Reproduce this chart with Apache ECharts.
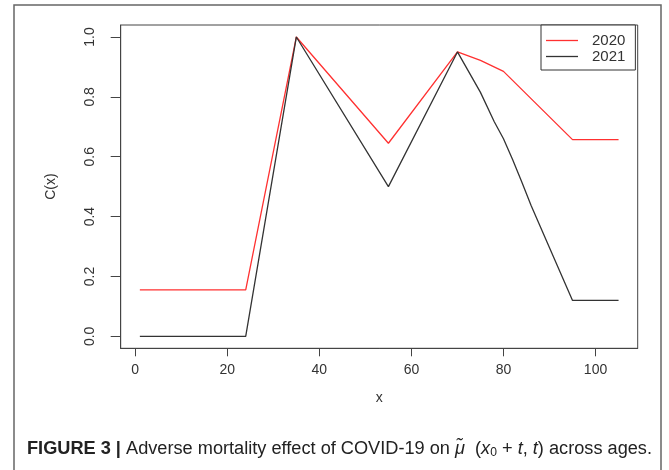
<!DOCTYPE html>
<html>
<head>
<meta charset="utf-8">
<script src="https://cdn.jsdelivr.net/npm/echarts@6/dist/echarts.min.js"></script>
<style>
html,body{margin:0;padding:0;background:#fff;}
#chart{width:669px;height:470px;}
</style>
</head>
<body>
<div id="chart"></div>
<script>
// ---- data ----
const seriesNames = ['2020', '2021'];
const ages2020 = [1, 24, 35, 55, 70, 75, 80, 95, 105];
const values2020 = [0.155, 0.155, 1.0, 0.645, 0.95, 0.922, 0.885, 0.657, 0.657];
const ages2021 = [1, 24, 35, 55, 70, 75, 78, 80, 82, 84, 86, 90, 95, 105];
const values2021 = [0, 0, 1.0, 0.5, 0.95, 0.815, 0.717, 0.66, 0.59, 0.515, 0.437, 0.296, 0.12, 0.12];
const xTicks = [0, 20, 40, 60, 80, 100];
const yTicks = [0, 0.2, 0.4, 0.6, 0.8, 1.0];
const xTitle = 'x';
const yTitle = 'C(x)';

const pairs = (xs, ys) => xs.map((x, i) => [x, ys[i]]);

const chart = echarts.init(document.getElementById('chart'), null, {renderer: 'canvas'});

// caption segments
const capFont = '"Liberation Sans", Arial, sans-serif';
const capSize = 18;
const capSegs = [
  ['b', 'FIGURE 3 |', 'bold'],
  ['n', ' Adverse mortality effect of COVID-19 on ', 'normal'],
  ['m', 'μ̃', 'italic'],
  ['n', '  (', 'normal'],
  ['i', 'x', 'italic'],
  ['s', '0', 'normal', 12],
  ['n', ' + ', 'normal'],
  ['i', 't', 'italic'],
  ['n', ', ', 'normal'],
  ['i', 't', 'italic'],
  ['n', ') across ages.', 'normal']
];
const cv = document.createElement('canvas').getContext('2d');
let capW = 0;
capSegs.forEach(s => {
  const sz = s[3] || capSize;
  const st = s[2] === 'italic' ? 'italic ' : (s[2] === 'bold' ? 'bold ' : '');
  cv.font = st + sz + 'px ' + capFont;
  capW += cv.measureText(s[1]).width;
});
const capScale = 625 / capW;
const capText = capSegs.map(s => '{' + s[0] + '|' + s[1] + '}').join('');

const lineIcon = 'path://M0,0L32,0L32,1.3L0,1.3Z';

const option = {
  animation: false,
  backgroundColor: '#fff',
  grid: {
    left: 120.7, right: 31.3, top: 25, bottom: 121.7,
    show: true, borderColor: '#444', borderWidth: 1,
    outerBoundsMode: 'none'
  },
  legend: {
    data: seriesNames.map(n => ({name: n, icon: lineIcon})),
    orient: 'vertical',
    left: 541, top: 25,
    padding: [8, 10, 6, 5],
    itemWidth: 32, itemHeight: 14, itemGap: 1,
    borderColor: '#333', borderWidth: 1,
    backgroundColor: '#fff',
    textStyle: {fontSize: 15, color: '#333', fontFamily: capFont, padding: [0, 0, 0, 9]}
  },
  xAxis: {
    type: 'value', min: -3.16, max: 109.16,
    name: xTitle, nameLocation: 'middle', nameGap: 43,
    nameTextStyle: {fontSize: 14, color: '#333', fontFamily: capFont},
    axisLine: {show: true, onZero: false, lineStyle: {color: '#444', width: 1}},
    axisTick: {show: true, inside: false, length: 8, customValues: xTicks, lineStyle: {color: '#444'}},
    axisLabel: {customValues: xTicks, fontSize: 14, color: '#333', margin: 15, fontFamily: capFont},
    splitLine: {show: false}
  },
  yAxis: {
    type: 'value', min: -0.04, max: 1.04,
    name: yTitle, nameLocation: 'middle', nameGap: 63, nameRotate: 90,
    nameTextStyle: {fontSize: 14, color: '#333', fontFamily: capFont},
    axisLine: {show: true, onZero: false, lineStyle: {color: '#444', width: 1}},
    axisTick: {show: true, inside: false, length: 10, customValues: yTicks, lineStyle: {color: '#444'}},
    axisLabel: {customValues: yTicks, fontSize: 14, color: '#333', margin: 24, rotate: 90,
      fontFamily: capFont, formatter: v => v.toFixed(1)},
    splitLine: {show: false}
  },
  series: [
    {name: seriesNames[0], type: 'line', symbol: 'none', data: pairs(ages2020, values2020),
     lineStyle: {color: '#ff3030', width: 1.3}, itemStyle: {color: '#ff3030'}, z: 2},
    {name: seriesNames[1], type: 'line', symbol: 'none', data: pairs(ages2021, values2021),
     lineStyle: {color: '#333', width: 1.3}, itemStyle: {color: '#333'}, z: 3}
  ],
  graphic: [
    {type: 'rect', shape: {x: 14, y: 5, width: 647, height: 520},
     style: {fill: 'none', stroke: '#666', lineWidth: 1.5}, silent: true, z: -1},
    {type: 'text', x: 27, y: 449, scaleX: capScale, originX: 0,
     style: {
       text: capText, verticalAlign: 'middle', fill: '#222',
       font: capSize + 'px ' + capFont,
       rich: {
         b: {fontSize: capSize, fontWeight: 'bold', fontFamily: capFont, lineHeight: 20, verticalAlign: 'middle', fill: '#222'},
         n: {fontSize: capSize, fontFamily: capFont, lineHeight: 20, verticalAlign: 'middle', fill: '#222'},
         m: {fontSize: capSize, fontStyle: 'italic', fontFamily: capFont, lineHeight: 20, verticalAlign: 'middle', fill: '#222'},
         i: {fontSize: capSize, fontStyle: 'italic', fontFamily: capFont, lineHeight: 20, verticalAlign: 'middle', fill: '#222'},
         s: {fontSize: 12, fontFamily: capFont, lineHeight: 12, verticalAlign: 'bottom', fill: '#222'}
       }
     }, z: 10}
  ]
};
chart.setOption(option);
</script>
</body>
</html>
